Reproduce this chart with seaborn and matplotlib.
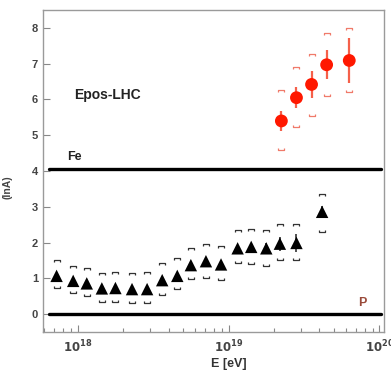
import numpy as np
import matplotlib
matplotlib.use("Agg")
import matplotlib.pyplot as plt
from matplotlib.path import Path
from matplotlib.ticker import LogLocator, NullFormatter, FuncFormatter
import seaborn as sns

# proton-like points (triangles)
logE_p = [17.86, 17.97, 18.06, 18.16, 18.25, 18.36, 18.46, 18.56, 18.66,
          18.75, 18.85, 18.95, 19.06, 19.15, 19.25, 19.34, 19.45, 19.62]
lnA_p = [1.07, 0.93, 0.86, 0.72, 0.73, 0.70, 0.70, 0.95, 1.07,
         1.37, 1.48, 1.39, 1.84, 1.88, 1.84, 1.97, 1.99, 2.86]
stat_p = [0.04, 0.04, 0.04, 0.04, 0.04, 0.05, 0.05, 0.05, 0.06,
          0.07, 0.08, 0.09, 0.10, 0.12, 0.14, 0.20, 0.25, 0.15]
syshi_p = [1.51, 1.35, 1.30, 1.16, 1.17, 1.16, 1.17, 1.42, 1.56,
           1.84, 1.96, 1.90, 2.35, 2.37, 2.35, 2.51, 2.53, 3.37]
syslo_p = [0.73, 0.58, 0.50, 0.34, 0.34, 0.32, 0.32, 0.53, 0.69,
           0.97, 1.01, 0.95, 1.42, 1.40, 1.34, 1.51, 1.51, 2.30]

# red points
logE_r = [19.35, 19.45, 19.55, 19.65, 19.80]
lnA_r = [5.40, 6.05, 6.42, 6.97, 7.09]
stat_r = [0.28, 0.30, 0.37, 0.40, 0.63]
syshi_r = [6.26, 6.91, 7.28, 7.86, 8.01]
syslo_r = [4.58, 5.22, 5.54, 6.09, 6.21]

lnA_fe = 4.05
lnA_pr = 0.0

E_p = 10 ** np.array(logE_p)
E_r = 10 ** np.array(logE_r)

sns.set_theme(style="white")
plt.rcParams['font.family'] = ['Liberation Sans', 'DejaVu Sans']

fig = plt.figure(figsize=(3.91, 3.71), dpi=100)
ax = fig.add_axes([0.110, 0.105, 0.872, 0.868])

# bracket markers for systematics
up = Path([(-1, -0.6), (-1, 0), (1, 0), (1, -0.6)],
          [Path.MOVETO, Path.LINETO, Path.LINETO, Path.LINETO])
dn = Path([(-1, 0.6), (-1, 0), (1, 0), (1, 0.6)],
          [Path.MOVETO, Path.LINETO, Path.LINETO, Path.LINETO])

ax.axhline(lnA_fe, xmin=0.018, xmax=0.991, color='black', lw=2.4)
ax.axhline(lnA_pr, xmin=0.018, xmax=0.991, color='black', lw=2.4)

ax.plot(E_p, syshi_p, ls='none', marker=up, ms=4.5, mfc='none', mec='#333333', mew=0.9)
ax.plot(E_p, syslo_p, ls='none', marker=dn, ms=4.5, mfc='none', mec='#333333', mew=0.9)
ax.plot(E_r, syshi_r, ls='none', marker=up, ms=4.5, mfc='none', mec='#f07a6a', mew=0.9)
ax.plot(E_r, syslo_r, ls='none', marker=dn, ms=4.5, mfc='none', mec='#f07a6a', mew=0.9)

ax.errorbar(E_p, lnA_p, yerr=stat_p, fmt='none', ecolor='#333333', elinewidth=1.2)
ax.errorbar(E_r, lnA_r, yerr=stat_r, fmt='none', ecolor='#f5604a', elinewidth=1.6)

sns.scatterplot(x=E_p, y=lnA_p, marker='^', s=80, color='black', edgecolor='none', ax=ax, zorder=3)
sns.scatterplot(x=E_r, y=lnA_r, marker='o', s=85, color='#ff1800', edgecolor='none', ax=ax, zorder=3)

ax.set_xscale('log')
ax.set_xlim(10 ** 17.77, 10 ** 20.03)
ax.set_ylim(-0.5, 8.5)
ax.set_yticks(range(0, 9))
ax.xaxis.set_major_locator(LogLocator(base=10, numticks=10))
ax.xaxis.set_major_formatter(FuncFormatter(lambda v, p: r'$\mathbf{10^{%d}}$' % round(np.log10(v))))
ax.xaxis.set_minor_locator(LogLocator(base=10, subs=np.arange(2, 10), numticks=20))
ax.xaxis.set_minor_formatter(NullFormatter())

ax.tick_params(axis='both', which='major', direction='in', length=5, width=0.8,
               colors='#888888', labelcolor='#444444', labelsize=8, left=True, bottom=True)
ax.tick_params(axis='x', which='major', labelsize=8.5, pad=5)
ax.tick_params(axis='x', which='minor', direction='in', length=3, width=0.8,
               colors='#888888', bottom=True)
for lab in ax.get_yticklabels():
    lab.set_fontweight('bold')

for sp in ax.spines.values():
    sp.set_color('#9a9a9a')
    sp.set_linewidth(1.0)

ax.text(0.091, 6.12, 'Epos-LHC', transform=ax.get_yaxis_transform(), fontsize=10,
        fontweight='bold', color='#222222', va='center', ha='left')
ax.text(0.07, 4.40, 'Fe', transform=ax.get_yaxis_transform(), fontsize=9,
        fontweight='bold', color='#222222', va='center', ha='left')
ax.text(0.925, 0.31, 'P', transform=ax.get_yaxis_transform(), fontsize=9,
        fontweight='bold', color='#9a4a3a', va='center', ha='left')

ax.set_xlabel('E [eV]', fontsize=9, fontweight='bold', color='#333333', va='center')
ax.xaxis.set_label_coords(0.545, -0.1)
ax.set_ylabel('(lnA)', fontsize=7.5, fontweight='bold', color='#444444')
ax.yaxis.set_label_coords(-0.09, 0.45)

fig.savefig('out.png', dpi=100)
